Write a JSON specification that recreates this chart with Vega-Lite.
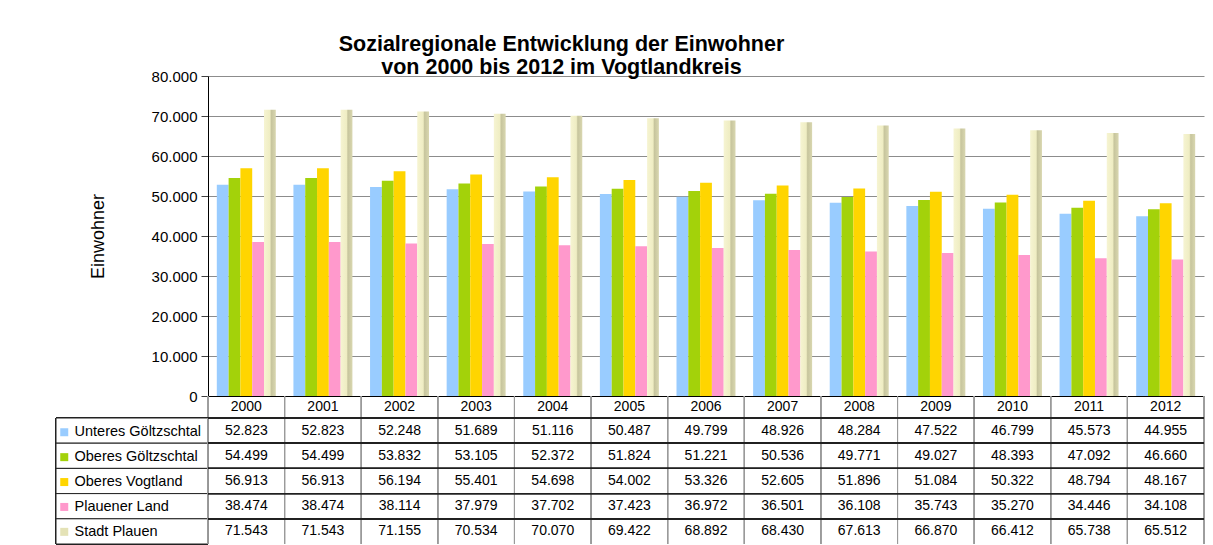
{
  "$schema": "https://vega.github.io/schema/vega-lite/v6.json",
  "autosize": {"type": "pad"},
  "padding": {"left": 55, "top": 33, "right": 5, "bottom": 0},
  "background": "white",
  "config": {
    "font": "Liberation Sans",
    "locale": {"number": {"decimal": ",", "thousands": ".", "grouping": [3], "currency": ["", " €"]}},
    "view": {"stroke": null}
  },
  "title": {
    "text": ["Sozialregionale Entwicklung der Einwohner", "von 2000 bis 2012 im Vogtlandkreis"],
    "fontSize": 21.5, "fontWeight": "bold", "color": "black",
    "anchor": "start", "align": "center", "dx": 506, "offset": -9, "lineHeight": 23
  },
  "data": {"values": [
    {"Jahr": "2000", "Region": "Unteres Göltzschtal", "Einwohner": 52823},
    {"Jahr": "2000", "Region": "Oberes Göltzschtal", "Einwohner": 54499},
    {"Jahr": "2000", "Region": "Oberes Vogtland", "Einwohner": 56913},
    {"Jahr": "2000", "Region": "Plauener Land", "Einwohner": 38474},
    {"Jahr": "2000", "Region": "Stadt Plauen", "Einwohner": 71543},
    {"Jahr": "2001", "Region": "Unteres Göltzschtal", "Einwohner": 52823},
    {"Jahr": "2001", "Region": "Oberes Göltzschtal", "Einwohner": 54499},
    {"Jahr": "2001", "Region": "Oberes Vogtland", "Einwohner": 56913},
    {"Jahr": "2001", "Region": "Plauener Land", "Einwohner": 38474},
    {"Jahr": "2001", "Region": "Stadt Plauen", "Einwohner": 71543},
    {"Jahr": "2002", "Region": "Unteres Göltzschtal", "Einwohner": 52248},
    {"Jahr": "2002", "Region": "Oberes Göltzschtal", "Einwohner": 53832},
    {"Jahr": "2002", "Region": "Oberes Vogtland", "Einwohner": 56194},
    {"Jahr": "2002", "Region": "Plauener Land", "Einwohner": 38114},
    {"Jahr": "2002", "Region": "Stadt Plauen", "Einwohner": 71155},
    {"Jahr": "2003", "Region": "Unteres Göltzschtal", "Einwohner": 51689},
    {"Jahr": "2003", "Region": "Oberes Göltzschtal", "Einwohner": 53105},
    {"Jahr": "2003", "Region": "Oberes Vogtland", "Einwohner": 55401},
    {"Jahr": "2003", "Region": "Plauener Land", "Einwohner": 37979},
    {"Jahr": "2003", "Region": "Stadt Plauen", "Einwohner": 70534},
    {"Jahr": "2004", "Region": "Unteres Göltzschtal", "Einwohner": 51116},
    {"Jahr": "2004", "Region": "Oberes Göltzschtal", "Einwohner": 52372},
    {"Jahr": "2004", "Region": "Oberes Vogtland", "Einwohner": 54698},
    {"Jahr": "2004", "Region": "Plauener Land", "Einwohner": 37702},
    {"Jahr": "2004", "Region": "Stadt Plauen", "Einwohner": 70070},
    {"Jahr": "2005", "Region": "Unteres Göltzschtal", "Einwohner": 50487},
    {"Jahr": "2005", "Region": "Oberes Göltzschtal", "Einwohner": 51824},
    {"Jahr": "2005", "Region": "Oberes Vogtland", "Einwohner": 54002},
    {"Jahr": "2005", "Region": "Plauener Land", "Einwohner": 37423},
    {"Jahr": "2005", "Region": "Stadt Plauen", "Einwohner": 69422},
    {"Jahr": "2006", "Region": "Unteres Göltzschtal", "Einwohner": 49799},
    {"Jahr": "2006", "Region": "Oberes Göltzschtal", "Einwohner": 51221},
    {"Jahr": "2006", "Region": "Oberes Vogtland", "Einwohner": 53326},
    {"Jahr": "2006", "Region": "Plauener Land", "Einwohner": 36972},
    {"Jahr": "2006", "Region": "Stadt Plauen", "Einwohner": 68892},
    {"Jahr": "2007", "Region": "Unteres Göltzschtal", "Einwohner": 48926},
    {"Jahr": "2007", "Region": "Oberes Göltzschtal", "Einwohner": 50536},
    {"Jahr": "2007", "Region": "Oberes Vogtland", "Einwohner": 52605},
    {"Jahr": "2007", "Region": "Plauener Land", "Einwohner": 36501},
    {"Jahr": "2007", "Region": "Stadt Plauen", "Einwohner": 68430},
    {"Jahr": "2008", "Region": "Unteres Göltzschtal", "Einwohner": 48284},
    {"Jahr": "2008", "Region": "Oberes Göltzschtal", "Einwohner": 49771},
    {"Jahr": "2008", "Region": "Oberes Vogtland", "Einwohner": 51896},
    {"Jahr": "2008", "Region": "Plauener Land", "Einwohner": 36108},
    {"Jahr": "2008", "Region": "Stadt Plauen", "Einwohner": 67613},
    {"Jahr": "2009", "Region": "Unteres Göltzschtal", "Einwohner": 47522},
    {"Jahr": "2009", "Region": "Oberes Göltzschtal", "Einwohner": 49027},
    {"Jahr": "2009", "Region": "Oberes Vogtland", "Einwohner": 51084},
    {"Jahr": "2009", "Region": "Plauener Land", "Einwohner": 35743},
    {"Jahr": "2009", "Region": "Stadt Plauen", "Einwohner": 66870},
    {"Jahr": "2010", "Region": "Unteres Göltzschtal", "Einwohner": 46799},
    {"Jahr": "2010", "Region": "Oberes Göltzschtal", "Einwohner": 48393},
    {"Jahr": "2010", "Region": "Oberes Vogtland", "Einwohner": 50322},
    {"Jahr": "2010", "Region": "Plauener Land", "Einwohner": 35270},
    {"Jahr": "2010", "Region": "Stadt Plauen", "Einwohner": 66412},
    {"Jahr": "2011", "Region": "Unteres Göltzschtal", "Einwohner": 45573},
    {"Jahr": "2011", "Region": "Oberes Göltzschtal", "Einwohner": 47092},
    {"Jahr": "2011", "Region": "Oberes Vogtland", "Einwohner": 48794},
    {"Jahr": "2011", "Region": "Plauener Land", "Einwohner": 34446},
    {"Jahr": "2011", "Region": "Stadt Plauen", "Einwohner": 65738},
    {"Jahr": "2012", "Region": "Unteres Göltzschtal", "Einwohner": 44955},
    {"Jahr": "2012", "Region": "Oberes Göltzschtal", "Einwohner": 46660},
    {"Jahr": "2012", "Region": "Oberes Vogtland", "Einwohner": 48167},
    {"Jahr": "2012", "Region": "Plauener Land", "Einwohner": 34108},
    {"Jahr": "2012", "Region": "Stadt Plauen", "Einwohner": 65512}
  ]},
  "columns": 2,
  "spacing": 0,
  "bounds": "flush",
  "align": "each",
  "resolve": {"scale": {"x": "independent", "y": "independent", "color": "shared"}},
  "concat": [
    {
      "width": 152, "height": 320,
      "mark": {"type": "point", "opacity": 0},
      "encoding": {}
    },
    {
      "width": 996, "height": 320,
      "encoding": {
        "x": {"field": "Jahr", "type": "nominal", "scale": {"paddingInner": 0.23, "paddingOuter": 0.115},
              "axis": {"labels": false, "ticks": false, "domain": true, "domainColor": "black", "title": null, "grid": false}},
        "xOffset": {"field": "Region", "type": "nominal", "scale": {"domain": ["Unteres Göltzschtal", "Oberes Göltzschtal", "Oberes Vogtland", "Plauener Land", "Stadt Plauen"]}},
        "y": {"field": "Einwohner", "type": "quantitative", "scale": {"domain": [0, 80000], "nice": false},
              "axis": {"title": "Einwohner", "titleFontSize": 18, "titleFontWeight": "normal", "titleColor": "black", "titlePadding": 44,
                       "values": [0, 10000, 20000, 30000, 40000, 50000, 60000, 70000, 80000], "labelOverlap": false, "format": ",d",
                       "labelFontSize": 15, "labelColor": "black", "labelPadding": 4, "tickSize": 7, "tickColor": "#404040",
                       "domainColor": "black", "grid": true, "gridColor": "#8c8c8c"}}
      },
      "layer": [
        {
          "transform": [{"filter": "datum.Region != 'Stadt Plauen'"}],
          "mark": {"type": "bar"},
          "encoding": {
            "color": {"field": "Region", "type": "nominal",
                      "scale": {"domain": ["Unteres Göltzschtal", "Oberes Göltzschtal", "Oberes Vogtland", "Plauener Land", "Stadt Plauen"],
                                "range": ["#99ccff", "#a3d20a", "#ffd500", "#ff99cc", "#e4e2b6"]},
                      "legend": {"orient": "none", "legendX": 1, "legendY": 349, "title": null, "symbolType": "square", "symbolSize": 64,
                                 "symbolStrokeWidth": 0, "labelFontSize": 14.5, "labelColor": "black", "rowPadding": 9.9, "labelOffset": 3}}
          }
        },
        {
          "transform": [{"filter": "datum.Region == 'Stadt Plauen'"}],
          "mark": {"type": "bar", "color": {"gradient": "linear", "x1": 0, "y1": 0, "x2": 1, "y2": 0,
                   "stops": [{"offset": 0, "color": "#f6f4d2"}, {"offset": 0.5, "color": "#efedc3"}, {"offset": 0.62, "color": "#c7c59d"}, {"offset": 1, "color": "#d9d7b0"}]}}
        }
      ]
    },
    {
      "width": 152, "height": 22,
      "mark": {"type": "point", "opacity": 0},
      "encoding": {}
    },
    {
      "width": 996, "height": 22,
      "layer": [
        {
          "mark": {"type": "rule", "color": "#9a9a9a"},
          "encoding": {"x": {"field": "Jahr", "type": "nominal", "bandPosition": 0, "scale": {"paddingInner": 0, "paddingOuter": 0}, "axis": null}}
        },
        {
          "transform": [{"filter": "datum.Jahr == '2012'"}],
          "mark": {"type": "rule", "color": "#9a9a9a"},
          "encoding": {"x": {"field": "Jahr", "type": "nominal", "bandPosition": 1}}
        },
        {
          "transform": [{"filter": "datum.Region == 'Stadt Plauen'"}],
          "mark": {"type": "text", "fontSize": 14, "color": "black"},
          "encoding": {"x": {"field": "Jahr", "type": "nominal"}, "text": {"field": "Jahr"}}
        }
      ]
    },
    {
      "width": 152, "height": 126,
      "mark": {"type": "bar", "fill": "white", "stroke": "#222222", "strokeWidth": 1},
      "encoding": {
        "y": {"field": "Region", "type": "nominal",
              "scale": {"domain": ["Unteres Göltzschtal", "Oberes Göltzschtal", "Oberes Vogtland", "Plauener Land", "Stadt Plauen"], "paddingInner": 0, "paddingOuter": 0},
              "axis": null}
      }
    },
    {
      "width": 996, "height": 126,
      "layer": [
        {
          "mark": {"type": "rule", "color": "#9a9a9a"},
          "encoding": {"x": {"field": "Jahr", "type": "nominal", "bandPosition": 0, "scale": {"paddingInner": 0, "paddingOuter": 0}, "axis": null}}
        },
        {
          "transform": [{"filter": "datum.Jahr == '2012'"}],
          "mark": {"type": "rule", "color": "#9a9a9a"},
          "encoding": {"x": {"field": "Jahr", "type": "nominal", "bandPosition": 1}}
        },
        {
          "mark": {"type": "rule", "color": "#222222"},
          "encoding": {"y": {"field": "Region", "type": "nominal", "bandPosition": 0,
                             "scale": {"domain": ["Unteres Göltzschtal", "Oberes Göltzschtal", "Oberes Vogtland", "Plauener Land", "Stadt Plauen"], "paddingInner": 0, "paddingOuter": 0},
                             "axis": null}}
        },
        {
          "mark": {"type": "text", "fontSize": 14, "color": "black"},
          "encoding": {
            "x": {"field": "Jahr", "type": "nominal"},
            "y": {"field": "Region", "type": "nominal"},
            "text": {"field": "Einwohner", "type": "quantitative", "format": ",d"}
          }
        }
      ]
    }
  ]
}
